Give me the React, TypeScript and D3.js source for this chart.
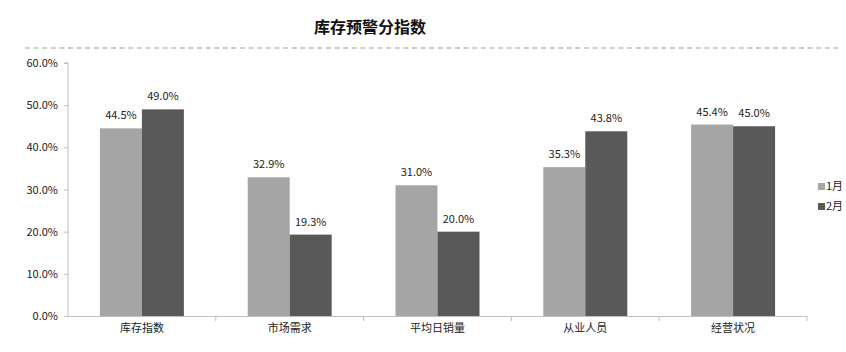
import React, { useEffect, useRef } from 'react';
import * as d3 from 'd3';

const TITLE = '库存预警分指数';
const CATEGORIES = ['库存指数', '市场需求', '平均日销量', '从业人员', '经营状况'];
const SERIES_NAMES = ['1月', '2月'];
const JAN = [44.5, 32.9, 31.0, 35.3, 45.4];
const FEB = [49.0, 19.3, 20.0, 43.8, 45.0];
const Y_TICKS = [0, 10, 20, 30, 40, 50, 60];

const COLORS = ['#a5a5a5', '#595959'];
const FONT = '"Noto Sans CJK SC", "Noto Sans", sans-serif';

export default function App() {
  const svgRef = useRef<SVGSVGElement>(null);

  useEffect(() => {
    const svg = d3.select(svgRef.current);
    svg.selectAll('*').remove();

    const left = 68;
    const right = 807;
    const top = 63;
    const bottom = 316;

    // title + dashed separator
    svg
      .append('text')
      .attr('x', 370)
      .attr('y', 33)
      .attr('text-anchor', 'middle')
      .attr('font-family', FONT)
      .attr('font-size', 16)
      .attr('font-weight', 'bold')
      .attr('fill', '#111')
      .text(TITLE);

    svg
      .append('line')
      .attr('x1', 25)
      .attr('x2', 838)
      .attr('y1', 48)
      .attr('y2', 48)
      .attr('stroke', '#bdbdbd')
      .attr('stroke-width', 1.5)
      .attr('stroke-dasharray', '5,3.6');

    const x = d3.scaleBand().domain(CATEGORIES).range([left, right]);
    const y = d3.scaleLinear().domain([0, 60]).range([bottom, top]);

    // two bars of ~42px each in a ~148px category band
    const inner = d3
      .scaleBand()
      .domain(SERIES_NAMES)
      .range([0, x.bandwidth()])
      .paddingInner(0)
      .paddingOuter(0.76);

    // y axis
    const yAxis = d3
      .axisLeft(y)
      .tickValues(Y_TICKS)
      .tickSize(4)
      .tickFormat((d) => `${(+d).toFixed(1)}%`);
    const gy = svg.append('g').attr('transform', `translate(${left},0)`).call(yAxis);
    gy.select('.domain').attr('stroke', '#bfbfbf').attr('d', `M-4,${top}H0V${bottom}`);
    gy.selectAll('.tick line').attr('stroke', '#bfbfbf');
    gy.selectAll('.tick text')
      .attr('font-family', FONT)
      .attr('font-size', 11)
      .attr('fill', '#222')
      .attr('x', -10);

    const series = [JAN, FEB];

    series.forEach((vals, si) => {
      svg
        .append('g')
        .selectAll('rect')
        .data(CATEGORIES)
        .join('rect')
        .attr('x', (c) => (x(c) as number) + (inner(SERIES_NAMES[si]) as number))
        .attr('width', inner.bandwidth())
        .attr('y', (c, i) => y(vals[i]))
        .attr('height', (c, i) => y(0) - y(vals[i]))
        .attr('fill', COLORS[si]);

      svg
        .append('g')
        .selectAll('text')
        .data(CATEGORIES)
        .join('text')
        .attr('x', (c) => (x(c) as number) + (inner(SERIES_NAMES[si]) as number) + inner.bandwidth() / 2)
        .attr('y', (c, i) => y(vals[i]) - 9)
        .attr('text-anchor', 'middle')
        .attr('font-family', FONT)
        .attr('font-size', 11)
        .attr('fill', '#222')
        .text((c, i) => `${vals[i].toFixed(1)}%`);
    });

    // x axis
    const gx = svg.append('g');
    gx.append('line')
      .attr('x1', left)
      .attr('x2', right)
      .attr('y1', bottom + 0.5)
      .attr('y2', bottom + 0.5)
      .attr('stroke', '#bfbfbf');
    const seps = CATEGORIES.map((c) => (x(c) as number) + x.bandwidth());
    gx.selectAll('.sep')
      .data(seps)
      .join('line')
      .attr('x1', (d) => d)
      .attr('x2', (d) => d)
      .attr('y1', bottom)
      .attr('y2', bottom + 5)
      .attr('stroke', '#bfbfbf');
    gx.selectAll('text')
      .data(CATEGORIES)
      .join('text')
      .attr('x', (c) => (x(c) as number) + x.bandwidth() / 2)
      .attr('y', 332)
      .attr('text-anchor', 'middle')
      .attr('font-family', FONT)
      .attr('font-size', 11)
      .attr('fill', '#222')
      .text((c) => c);

    // legend
    const legend = svg.append('g').attr('transform', 'translate(818,190)');
    SERIES_NAMES.forEach((name, i) => {
      legend
        .append('rect')
        .attr('x', 0)
        .attr('y', i * 20 - 7)
        .attr('width', 7)
        .attr('height', 7)
        .attr('fill', COLORS[i]);
      legend
        .append('text')
        .attr('x', 8)
        .attr('y', i * 20)
        .attr('font-family', FONT)
        .attr('font-size', 11)
        .attr('fill', '#222')
        .text(name);
    });
  }, []);

  return (
    <svg
      ref={svgRef}
      width={846}
      height={352}
      style={{ position: 'absolute', left: 0, top: 0, background: '#fff' }}
    />
  );
}
